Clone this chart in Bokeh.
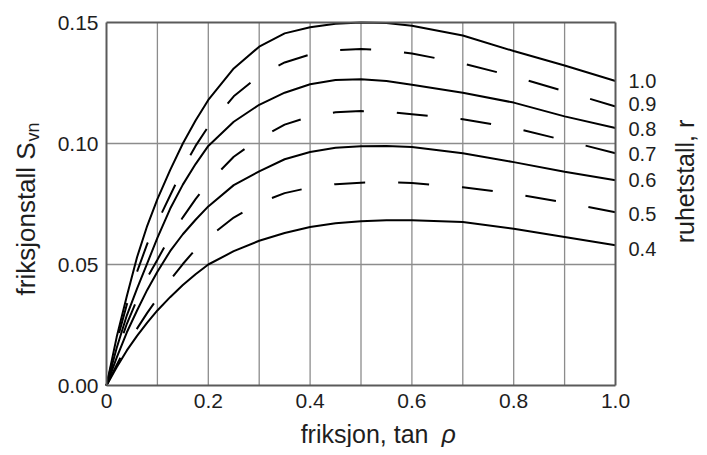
import math
from bokeh.plotting import figure
from bokeh.models import Range1d, FixedTicker, Label, LinearAxis
from bokeh.embed import file_html
from bokeh.resources import INLINE

# ---- data ----
x = [0, 0.02, 0.04, 0.06, 0.08, 0.1, 0.125, 0.15, 0.175, 0.2, 0.25, 0.3,
     0.35, 0.4, 0.45, 0.5, 0.55, 0.6, 0.7, 0.8, 0.9, 1.0]

s_r10 = [0, 0.020, 0.037, 0.053, 0.066, 0.077, 0.089, 0.100, 0.1095, 0.118, 0.131, 0.140,
         0.1455, 0.148, 0.1495, 0.150, 0.1498, 0.1487, 0.1446, 0.1382, 0.1322, 0.1258]
s_r09 = [0, 0.018, 0.0335, 0.047, 0.0585, 0.0675, 0.0785, 0.0895, 0.099, 0.107, 0.1195, 0.128,
         0.1335, 0.1368, 0.1385, 0.1390, 0.1385, 0.1372, 0.1331, 0.1277, 0.1216, 0.1153]
s_r08 = [0, 0.0155, 0.029, 0.040, 0.0505, 0.061, 0.073, 0.083, 0.0915, 0.099, 0.109, 0.116,
         0.121, 0.1245, 0.1262, 0.1265, 0.1258, 0.1243, 0.121, 0.1169, 0.1112, 0.1064]
s_r07 = [0, 0.0135, 0.0255, 0.0355, 0.0445, 0.052, 0.0615, 0.0695, 0.077, 0.0837, 0.0945, 0.102,
         0.1078, 0.1112, 0.1129, 0.1134, 0.1131, 0.1121, 0.1100, 0.1065, 0.1013, 0.0960]
s_r06 = [0, 0.0115, 0.022, 0.031, 0.0395, 0.047, 0.0555, 0.0625, 0.0685, 0.074, 0.0828, 0.0885,
         0.0935, 0.0965, 0.0982, 0.0989, 0.0990, 0.0986, 0.0960, 0.0923, 0.0883, 0.0848]
s_r05 = [0, 0.0085, 0.0165, 0.0235, 0.030, 0.036, 0.0435, 0.0502, 0.0563, 0.0612, 0.0694, 0.0754,
         0.0795, 0.0818, 0.0832, 0.0838, 0.0840, 0.0837, 0.0819, 0.0793, 0.0756, 0.0716]
s_r04 = [0, 0.0075, 0.0145, 0.0205, 0.026, 0.031, 0.0365, 0.0415, 0.046, 0.050, 0.0555, 0.0598,
         0.063, 0.0655, 0.067, 0.0679, 0.0683, 0.0683, 0.0676, 0.0648, 0.0614, 0.058]

r_labels = ["1.0", "0.9", "0.8", "0.7", "0.6", "0.5", "0.4"]

x_ticks = [0, 0.2, 0.4, 0.6, 0.8, 1.0]
x_tick_labels = ["0", "0.2", "0.4", "0.6", "0.8", "1.0"]
y_ticks = [0, 0.05, 0.10, 0.15]
y_tick_labels = ["0.00", "0.05", "0.10", "0.15"]
x_grid = [0.1, 0.2, 0.3, 0.4, 0.5, 0.6, 0.7, 0.8, 0.9]
y_grid = [0.05, 0.10]

# ---- layout / styles ----
W, H = 699, 447
ML, MR, MT, MB = 106, 84, 22, 62          # pixel margins around the plot box
X0, X1 = x_ticks[0], x_ticks[-1]
Y0, Y1 = y_ticks[0], y_ticks[-1]
kx = (W - ML - MR) / (X1 - X0)
ky = (H - MT - MB) / (Y1 - Y0)

FONT = "Liberation Sans"
TXT = "#1e1e1e"
BOX = "#5a5a5a"
GRID = "#8c8c8c"
series = [s_r10, s_r09, s_r08, s_r07, s_r06, s_r05, s_r04]
dash_offset = [None, 10, None, 9, None, 0, None]
label_dy = [0, 2, -1, -1, 0, -2, -4]

p = figure(width=W, height=H,
           x_range=Range1d(X0 - ML / kx, X1 + MR / kx),
           y_range=Range1d(Y0 - MB / ky, Y1 + MT / ky),
           output_backend="svg", toolbar_location=None, min_border=0)
p.title.visible = False
p.background_fill_color = "white"
p.border_fill_color = "white"
p.outline_line_color = None

# main axes, fixed at the data origin (they take no border space)
xa, ya = p.xaxis[0], p.yaxis[0]
xa.fixed_location = Y0
xa.bounds = (X0, X1)
ya.fixed_location = X0
ya.bounds = (Y0, Y1)
xa.ticker = FixedTicker(ticks=x_ticks)
xa.major_label_overrides = {t: l for t, l in zip(x_ticks, x_tick_labels)}
ya.ticker = FixedTicker(ticks=y_ticks)
ya.major_label_overrides = {t: l for t, l in zip(y_ticks, y_tick_labels)}

# top and right edges of the box
ta = LinearAxis(fixed_location=Y1, bounds=(X0, X1), ticker=FixedTicker(ticks=[]))
ra = LinearAxis(fixed_location=X1, bounds=(Y0, Y1), ticker=FixedTicker(ticks=[]))
p.add_layout(ta, "above")
p.add_layout(ra, "right")

for ax in (xa, ya, ta, ra):
    ax.axis_line_color = BOX
    ax.axis_line_width = 2
    ax.major_tick_line_color = None
    ax.minor_tick_line_color = None
    ax.major_tick_out = 0
    ax.major_tick_in = 0
    ax.major_label_text_font = FONT
    ax.major_label_text_font_size = "21px"
    ax.major_label_text_color = TXT
    ax.major_label_standoff = 8

# grid lines confined to the box
p.xgrid.visible = False
p.ygrid.visible = False
p.segment(x0=x_grid, y0=[Y0] * len(x_grid), x1=x_grid, y1=[Y1] * len(x_grid),
          line_color=GRID, line_width=1.3, level="underlay")
p.segment(x0=[X0] * len(y_grid), y0=y_grid, x1=[X1] * len(y_grid), y1=y_grid,
          line_color=GRID, line_width=1.3, level="underlay")

for ys, off in zip(series, dash_offset):
    if off is None:
        p.line(x, ys, line_color="black", line_width=2)
    else:
        p.line(x, ys, line_color="black", line_width=2,
               line_dash="31 33", line_dash_offset=off)

for ys, lab, dy in zip(series, r_labels, label_dy):
    p.add_layout(Label(x=x[-1], y=ys[-1], x_offset=13, y_offset=dy, text=lab,
                       text_font=FONT, text_font_size="20px", text_color=TXT,
                       text_align="left", text_baseline="middle"))

# axis titles (all anchored on the middle of the text line)
p.add_layout(Label(x=X1, y=0.0843, x_offset=69, angle=math.pi / 2, text="ruhetstall, r",
                   text_font=FONT, text_font_size="25px", text_color=TXT,
                   text_align="center", text_baseline="middle"))
p.add_layout(Label(x=X0, y=0.0372, x_offset=-81, angle=math.pi / 2, text="friksjonstall S",
                   text_font=FONT, text_font_size="26px", text_color=TXT,
                   text_align="left", text_baseline="middle"))
p.add_layout(Label(x=X0, y=0.0372, x_offset=-74, y_offset=154, angle=math.pi / 2, text="vn",
                   text_font=FONT, text_font_size="18px", text_color=TXT,
                   text_align="left", text_baseline="middle"))
p.add_layout(Label(x=0.6326, y=Y0, y_offset=-48, text="friksjon, tan",
                   text_font=FONT, text_font_size="25px", text_color=TXT,
                   text_align="right", text_baseline="middle"))
p.add_layout(Label(x=0.658, y=Y0, y_offset=-48, text="ρ", text_font_style="italic",
                   text_font=FONT, text_font_size="25px", text_color=TXT,
                   text_align="left", text_baseline="middle"))

open("out.html", "w").write(file_html(p, INLINE))
